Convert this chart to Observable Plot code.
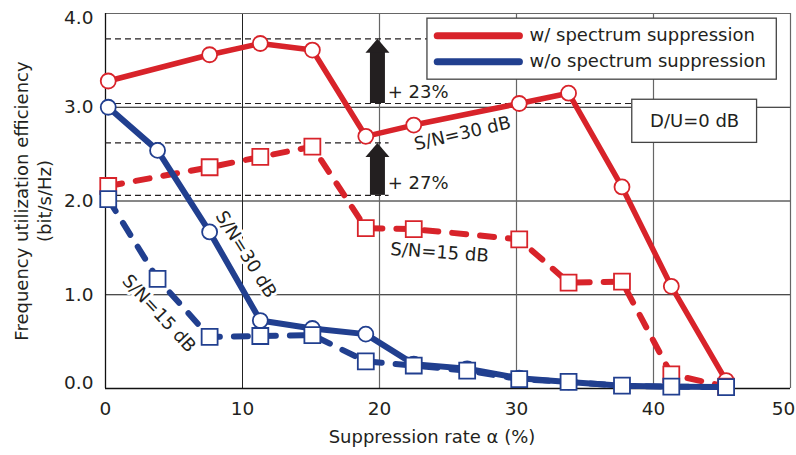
<!DOCTYPE html>
<html><head><meta charset="utf-8">
<script src="https://cdn.jsdelivr.net/npm/d3@7"></script>
<script src="https://cdn.jsdelivr.net/npm/@observablehq/plot@0.6"></script>
<style>
html,body{margin:0;padding:0;background:#fff;}
#chart{width:796px;height:455px;}
</style></head><body><div id="chart"></div>
<script>
// ---- data ----
const alphaW = [0.2, 7.6, 11.3, 15.1, 19.0, 22.5, 30.2, 33.8, 37.7, 41.3, 45.3];
const withSN30 = [3.28, 3.56, 3.68, 3.61, 2.69, 2.81, 3.04, 3.15, 2.15, 1.09, 0.085];
const withSN15 = [2.16, 2.36, 2.47, 2.58, 1.71, 1.70, 1.59, 1.13, 1.14, 0.15, 0.02];
const alphaWo = [0.2, 3.8, 7.6, 11.3, 15.1, 19.0, 22.5, 26.4, 30.2, 33.8, 37.7, 41.3, 45.3];
const withoutSN30 = [3.0, 2.54, 1.67, 0.725, 0.64, 0.58, 0.26, 0.21, 0.11, 0.07, 0.03, 0.02, 0.015];
const withoutSN15 = [2.02, 1.17, 0.55, 0.56, 0.57, 0.29, 0.245, 0.19, 0.10, 0.07, 0.03, 0.02, 0.015];

const refLevels = [3.73, 3.04, 2.62, 2.06];
const refEnds = [23.5, 38.5, 20.7, 20.7];
const arrowX = [19.85, 19.85];
const arrowBase = [3.04, 2.06];
const arrowTip = [3.73, 2.62];
const gainText = ["+ 23%", "+ 27%"];

const xTicks = [0, 10, 20, 30, 40, 50];
const yTicks = [0, 1, 2, 3, 4];
const legendNames = ["w/ spectrum suppression", "w/o spectrum suppression"];
const snText = ["S/N=30 dB", "S/N=15 dB", "S/N=30 dB", "S/N=15 dB"];

// ---- styling ----
const RED = "#d8232a", BLUE = "#213f8f", INK = "#231f20", FONT = "'DejaVu Sans', sans-serif";
const pts = (xs, ys) => xs.map((x, i) => ({x, y: ys[i]}));
const sW30 = pts(alphaW, withSN30), sW15 = pts(alphaW, withSN15);
const sO30 = pts(alphaWo, withoutSN30), sO15 = pts(alphaWo, withoutSN15);
const refs = refLevels.map((y, i) => ({y, x1: 0, x2: refEnds[i]}));
const arrows = arrowX.map((x, i) => ({x, base: arrowBase[i], tip: arrowTip[i]}));
const gains = gainText.map((t, i) => ({t, x: 20.6, y: [3.16, 2.19][i]}));
const snLabels = [
  {t: snText[0], x: 26.06, y: 2.72, a: -13},
  {t: snText[1], x: 24.38, y: 1.45, a: 4},
  {t: snText[2], x: 10.25, y: 1.43, a: 58},
  {t: snText[3], x: 3.9, y: 0.8, a: 47}
];
const legend = legendNames.map((t, i) => ({t, y: [3.763, 3.486][i]}));
const arrowHead = {draw(ctx) { ctx.moveTo(0, 0); ctx.lineTo(12, 14); ctx.lineTo(-12, 14); ctx.closePath(); }};

const dashed = "14,14";
const chart = Plot.plot({
  width: 796, height: 455,
  marginLeft: 105, marginRight: 6, marginTop: 13, marginBottom: 67,
  x: {domain: [0, 50]},
  y: {domain: [0, 4]},
  style: {fontFamily: FONT, background: "white", color: INK},
  marks: [
    // grid & frame
    Plot.ruleY(yTicks.filter(d => d > 0 && d < 4), {stroke: "#111", strokeWidth: 1}),
    Plot.ruleX(xTicks.filter(d => d === 10), {stroke: "#222", strokeWidth: 1}),
    Plot.ruleX(xTicks.filter(d => d > 10 && d < 50), {stroke: "#666", strokeWidth: 1.2}),
    Plot.ruleY(yTicks.filter(d => d === 4), {stroke: "#666", strokeWidth: 1.2}),
    Plot.ruleX(xTicks.filter(d => d === 50), {stroke: "#666", strokeWidth: 1.2}),
    Plot.ruleX(xTicks.filter(d => d === 0), {stroke: "#111", strokeWidth: 1.3}),
    Plot.ruleY(yTicks.filter(d => d === 0), {stroke: "#111", strokeWidth: 1.3}),
    // axes
    Plot.axisY(yTicks.filter(d => d > 0 && d < 4), {tickSize: 0, tickPadding: 12, tickFormat: d3.format(".1f"), fontSize: 18.5, label: null}),
    Plot.axisY(yTicks.filter(d => d === 4), {tickSize: 0, tickPadding: 12, tickFormat: d3.format(".1f"), fontSize: 18.5, dy: 5, label: null}),
    Plot.axisY(yTicks.filter(d => d === 0), {tickSize: 0, tickPadding: 12, tickFormat: d3.format(".1f"), fontSize: 18.5, dy: -5, label: null}),
    Plot.axisX(xTicks.filter(d => d < 50), {tickSize: 0, tickPadding: 13, fontSize: 18.5, label: null}),
    Plot.axisX(xTicks.filter(d => d === 50), {tickSize: 0, tickPadding: 13, fontSize: 18.5, dx: -7, label: null}),
    Plot.text(["Suppression rate α (%)"], {frameAnchor: "bottom", dy: 54, dx: -16, fontSize: 18, fill: INK}),
    Plot.text(["Frequency utilization efficiency"], {frameAnchor: "left", textAnchor: "middle", dx: -83, rotate: -90, fontSize: 18, fill: INK}),
    Plot.text(["(bit/s/Hz)"], {frameAnchor: "left", textAnchor: "middle", dx: -60, rotate: -90, fontSize: 18, fill: INK}),
    // reference dashed lines and arrows
    Plot.ruleY(refs, {y: "y", x1: "x1", x2: "x2", stroke: INK, strokeWidth: 1.2, strokeDasharray: "6,4"}),
    Plot.ruleX(arrows, {x: "x", y1: "tip", y2: "base", insetTop: 13, stroke: INK, strokeWidth: 15}),
    Plot.dot(arrows, {x: "x", y: "tip", symbol: arrowHead, fill: INK, stroke: "none", r: 6}),
    Plot.text(gains, {x: "x", y: "y", text: "t", textAnchor: "start", fontSize: 18, fill: INK}),
    // curve labels
    Plot.text(snLabels, {x: "x", y: "y", text: "t", rotate: "a", fontSize: 18, fill: INK, stroke: "white", strokeWidth: 6, paintOrder: "stroke"}),
    // data: with suppression
    Plot.line(sW30, {x: "x", y: "y", stroke: RED, strokeWidth: 5.5, strokeLinejoin: "round"}),
    Plot.dot(sW30, {x: "x", y: "y", r: 7.5, fill: "white", stroke: RED, strokeWidth: 1.8}),
    Plot.line(sW15, {x: "x", y: "y", stroke: RED, strokeWidth: 6, strokeDasharray: dashed, strokeLinecap: "round", strokeLinejoin: "round"}),
    Plot.dot(sW15, {x: "x", y: "y", r: 9, symbol: "square", fill: "white", stroke: RED, strokeWidth: 1.8}),
    // data: without suppression
    Plot.line(sO30, {x: "x", y: "y", stroke: BLUE, strokeWidth: 6, strokeLinejoin: "round"}),
    Plot.dot(sO30, {x: "x", y: "y", r: 7.5, fill: "white", stroke: BLUE, strokeWidth: 1.8}),
    Plot.line(sO15, {x: "x", y: "y", stroke: BLUE, strokeWidth: 6, strokeDasharray: dashed, strokeLinecap: "round", strokeLinejoin: "round"}),
    Plot.dot(sO15, {x: "x", y: "y", r: 9, symbol: "square", fill: "white", stroke: BLUE, strokeWidth: 1.8}),
    // legend
    Plot.rect([0], {x1: 23.5, x2: 49.0, y1: 3.294, y2: 3.945, fill: "white", stroke: "#444", strokeWidth: 1.3}),
    Plot.ruleY(legend.slice(0, 1), {y: "y", x1: 24.25, x2: 30.25, stroke: RED, strokeWidth: 7, strokeLinecap: "round"}),
    Plot.ruleY(legend.slice(1), {y: "y", x1: 24.25, x2: 30.25, stroke: BLUE, strokeWidth: 7, strokeLinecap: "round"}),
    Plot.text(legend, {x: 30.95, y: "y", text: "t", textAnchor: "start", fontSize: 18, fill: INK}),
    // D/U box
    Plot.rect([0], {x1: 38.45, x2: 47.56, y1: 2.62, y2: 3.08, fill: "white", stroke: "#444", strokeWidth: 1.3}),
    Plot.text(["D/U=0 dB"], {x: 43.0, y: 2.85, fontSize: 18, fill: INK})
  ]
});
document.getElementById("chart").appendChild(chart);
</script></body></html>
